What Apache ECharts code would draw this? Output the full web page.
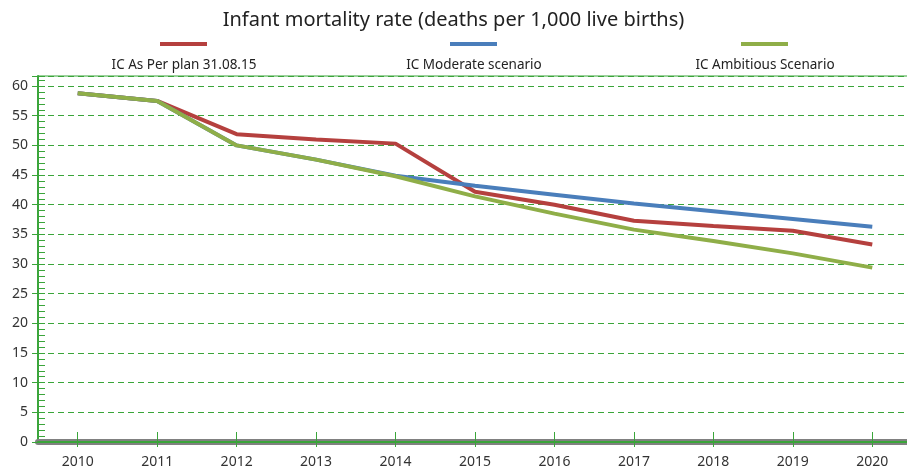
<!DOCTYPE html>
<html>
<head>
<meta charset="utf-8">
<title>Infant mortality rate</title>
<script src="https://cdn.jsdelivr.net/npm/echarts@6/dist/echarts.min.js"></script>
<style>
  html, body { margin: 0; padding: 0; background: #fff; }
  #chart { width: 907px; height: 470px; }
</style>
</head>
<body>
<div id="chart"></div>
<script>
  // values
  var years = ['2010', '2011', '2012', '2013', '2014', '2015', '2016', '2017', '2018', '2019', '2020']
  var seriesNames = ['IC As Per plan 31.08.15', 'IC Moderate scenario', 'IC Ambitious Scenario']
  var planData = [58.8, 57.5, 51.9, 51.0, 50.3, 42.2, 40.0, 37.3, 36.4, 35.6, 33.3]
  var moderateData = [58.8, 57.5, 50.0, 47.6, 44.9, 43.2, 41.7, 40.2, 38.9, 37.6, 36.3]
  var ambitiousData = [58.8, 57.5, 50.0, 47.6, 44.8, 41.4, 38.5, 35.8, 33.9, 31.8, 29.4]
  var colors = ['#b5403e', '#4a7ebb', '#8fae48']

  var FONT = '"Noto Sans", "Open Sans", sans-serif'
  var green = '#3aa53a'

  var chart = echarts.init(document.getElementById('chart'))

  // text width, so the legend labels can be centred under their line icon
  var ctx = document.createElement('canvas').getContext('2d')
  function textWidth(str, size) {
    ctx.font = size + 'px ' + FONT
    return ctx.measureText(str).width
  }

  var legendCenters = [184, 474, 765]
  var legends = []
  seriesNames.forEach(function (name, i) {
    // line icon on top
    legends.push({
      data: [name],
      left: legendCenters[i] - 24,
      top: 42,
      icon: 'rect',
      itemWidth: 47,
      itemHeight: 4,
      itemGap: 0,
      padding: 0,
      formatter: function () { return '' }
    })
    // label below
    legends.push({
      data: [name],
      left: legendCenters[i] - textWidth(name, 13.5) / 2 - 5,
      top: 58,
      icon: 'none',
      itemWidth: 0,
      itemGap: 0,
      padding: 0,
      textStyle: { fontFamily: FONT, fontSize: 13.5, color: '#222' }
    })
  })

  function lineSeries(name, data, color) {
    return {
      name: name,
      type: 'line',
      xAxisIndex: 0,
      yAxisIndex: 0,
      data: data,
      symbol: 'none',
      lineStyle: { color: color, width: 4 },
      itemStyle: { color: color }
    }
  }

  chart.setOption({
    animation: false,
    textStyle: { fontFamily: FONT },
    title: {
      text: 'Infant mortality rate (deaths per 1,000 live births)',
      left: 'center',
      top: 5,
      textStyle: { fontFamily: FONT, fontSize: 20, fontWeight: 'normal', color: '#222' }
    },
    legend: legends,
    grid: {
      left: 38,
      right: -5,
      top: 76,
      bottom: 28,
      show: true,
      borderColor: green,
      borderWidth: 1,
      outerBoundsMode: 'none'
    },
    xAxis: [{
      type: 'category',
      data: years,
      boundaryGap: true,
      axisLine: { lineStyle: { color: green, width: 2 } },
      axisTick: { show: true, alignWithLabel: true, inside: true, length: 10, lineStyle: { color: green } },
      axisLabel: { margin: 13, fontSize: 14, color: '#333', fontFamily: FONT },
      splitLine: { show: false },
      z: 3
    }, {
      // grey floor under the axis
      type: 'category',
      data: years,
      position: 'bottom',
      offset: 5,
      boundaryGap: true,
      axisLine: { lineStyle: { color: '#808080', width: 6 } },
      axisTick: { show: true, alignWithLabel: true, length: 5, lineStyle: { color: green } },
      axisLabel: { show: false },
      splitLine: { show: false }
    }],
    yAxis: [{
      type: 'value',
      min: 0,
      max: 61.7,
      interval: 5,
      axisLine: { show: true, lineStyle: { color: green, width: 2 } },
      axisTick: { show: true, inside: true, length: 7, lineStyle: { color: green } },
      minorTick: { show: true, splitNumber: 5, length: 7, lineStyle: { color: green } },
      axisLabel: {
        margin: 10,
        fontSize: 14,
        color: '#333',
        fontFamily: FONT,
        formatter: function (v) { return v % 5 === 0 ? v : '' }
      },
      splitLine: { show: true, lineStyle: { color: green, type: [6, 4], width: 1 } }
    }, {
      type: 'value',
      position: 'left',
      min: 0,
      max: 61.7,
      interval: 5,
      axisLine: { show: false },
      axisTick: { show: true, length: 6, lineStyle: { color: green } },
      axisLabel: { show: false },
      splitLine: { show: false }
    }],
    series: [
      lineSeries(seriesNames[0], planData, colors[0]),
      lineSeries(seriesNames[1], moderateData, colors[1]),
      lineSeries(seriesNames[2], ambitiousData, colors[2])
    ]
  })
</script>
</body>
</html>
